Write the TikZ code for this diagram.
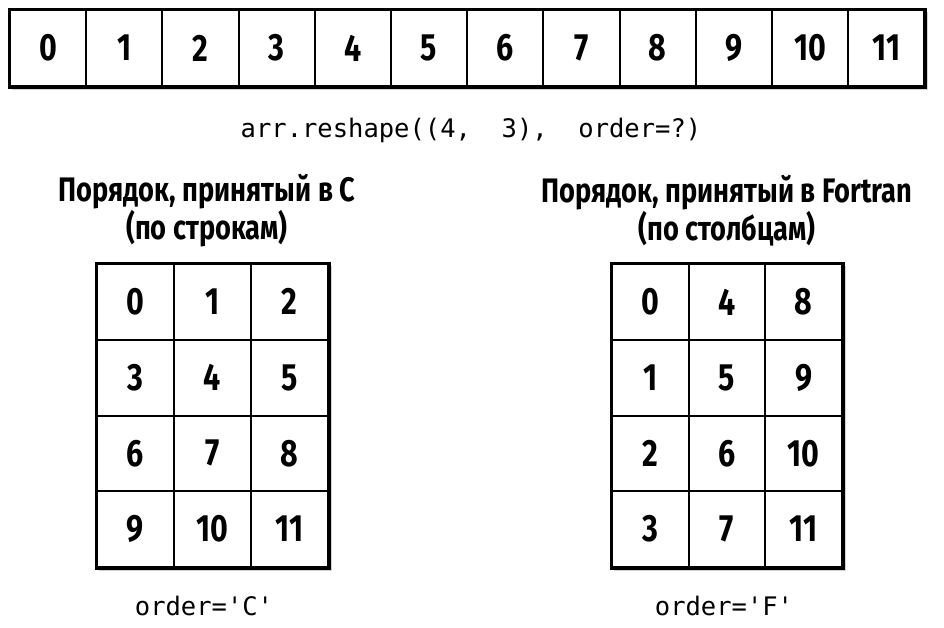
\documentclass[tikz,border=0pt]{standalone}
\usepackage{fontspec}
\newfontfamily\cellfont[FakeStretch=0.8]{Fira Sans}
\newfontfamily\codefont{DejaVu Sans Mono}
\usetikzlibrary{backgrounds,fit,positioning,shadows}

\begin{document}
\begin{tikzpicture}[x=1pt,y=-1pt,
    cell/.style={draw,line width=2pt,inner sep=0pt,
      minimum width=76.2pt,minimum height=76pt,
      font=\cellfont\bfseries\fontsize{38}{38}\selectfont},
    frame/.style={draw,line width=3pt,inner sep=0pt,fill=white,
      drop shadow={shadow xshift=3pt,shadow yshift=-3pt,opacity=.35}},
    code/.style={font=\codefont\fontsize{25.5}{26}\selectfont},
    title/.style={align=center,
      font=\cellfont\bfseries\fontsize{34}{36}\selectfont}]
  \useasboundingbox (0,0) rectangle (944,627);

  % flat array
  \foreach \i in {0,...,11}
    \node[cell] (t\i) at ({10+76.2*(\i+0.5)},48) {\i};
  \begin{scope}[on background layer]
    \node[frame,fit=(t0)(t11)] (flat) {};
  \end{scope}
  \node[code] (call) at (471,130) {arr.reshape((4,\ \ 3),\ \ order=?)};

  % C order
  \foreach \r in {0,...,3}
    \foreach \c in {0,...,2} {
      \pgfmathtruncatemacro\v{3*\r+\c}
      \node[cell,minimum width=77pt,minimum height=75.75pt]
        (c\r\c) at ({97+77*(\c+0.5)},{264+75.75*(\r+0.5)}) {\v};
    }
  \begin{scope}[on background layer]
    \node[frame,fit=(c00)(c32)] (gridC) {};
  \end{scope}
  \node[title] (titleC) at (207,211) {Порядок, принятый в C\\(по строкам)};
  \node[code] (orderC) at (204,606) {order='C'};

  % Fortran order
  \foreach \r in {0,...,3}
    \foreach \c in {0,...,2} {
      \pgfmathtruncatemacro\v{\r+4*\c}
      \node[cell,minimum width=76.7pt,minimum height=75.75pt]
        (f\r\c) at ({612+76.7*(\c+0.5)},{264+75.75*(\r+0.5)}) {\v};
    }
  \begin{scope}[on background layer]
    \node[frame,fit=(f00)(f32)] (gridF) {};
  \end{scope}
  \node[title] (titleF) at (727,211) {Порядок, принятый в Fortran\\(по столбцам)};
  \node[code] (orderF) at (724,606) {order='F'};
\end{tikzpicture}
\end{document}
